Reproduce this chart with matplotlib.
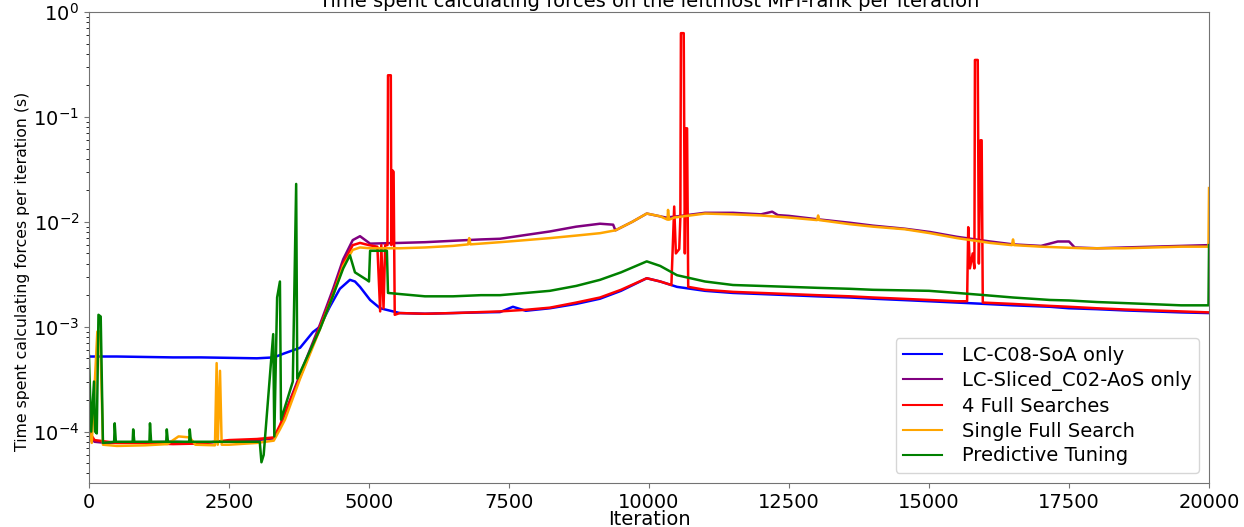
import numpy as np
import matplotlib
matplotlib.use("Agg")
import matplotlib.pyplot as plt

# values (iteration, seconds)
c08_it = [0, 500, 1000, 1500, 2000, 2500, 3000, 3300, 3500, 3770, 4000, 4125, 4300,
          4480, 4660, 4750, 4840, 5020, 5200, 5550, 6000, 6500, 7000, 7340, 7570, 7800,
          8230, 8700, 9125, 9500, 9960, 10200, 10500, 11000, 11500, 12000, 12500, 13000,
          13590, 14000, 14500, 15000, 15500, 16000, 16500, 17160, 17500, 18000, 18500,
          19000, 19500, 20000]
c08_t = [5.2e-4, 5.2e-4, 5.15e-4, 5.1e-4, 5.1e-4, 5.05e-4, 5.0e-4, 5.1e-4, 5.6e-4, 6.3e-4,
         8.9e-4, 1.0e-3, 1.55e-3, 2.3e-3, 2.8e-3, 2.7e-3, 2.4e-3, 1.8e-3, 1.5e-3, 1.35e-3,
         1.33e-3, 1.35e-3, 1.37e-3, 1.38e-3, 1.55e-3, 1.42e-3, 1.5e-3, 1.65e-3, 1.85e-3,
         2.2e-3, 2.9e-3, 2.7e-3, 2.4e-3, 2.2e-3, 2.1e-3, 2.05e-3, 2.0e-3, 1.95e-3, 1.9e-3,
         1.85e-3, 1.8e-3, 1.75e-3, 1.7e-3, 1.65e-3, 1.6e-3, 1.55e-3, 1.5e-3, 1.47e-3,
         1.43e-3, 1.4e-3, 1.37e-3, 1.35e-3]

sliced_it = [0, 100, 300, 1000, 1500, 2000, 2500, 3000, 3300, 3410, 3500, 3770, 4125,
             4360, 4540, 4710, 4840, 5020, 5550, 6000, 6500, 7000, 7340, 7800, 8230, 8700,
             9125, 9360, 9400, 9700, 9960, 10300, 10450, 11000, 11500, 12000, 12200, 12300,
             12500, 13000, 13590, 14000, 14570, 15020, 15500, 16090, 16500, 17000, 17300,
             17500, 17600, 18000, 18500, 19000, 19500, 20000]
sliced_t = [9e-5, 8e-5, 7.8e-5, 7.9e-5, 8e-5, 7.8e-5, 8.1e-5, 8.3e-5, 8.6e-5, 1.1e-4,
            1.5e-4, 3.5e-4, 1.05e-3, 2.3e-3, 4.4e-3, 6.7e-3, 7.3e-3, 6.2e-3, 6.3e-3, 6.4e-3,
            6.6e-3, 6.8e-3, 6.9e-3, 7.5e-3, 8.1e-3, 9.0e-3, 9.6e-3, 9.4e-3, 8.3e-3, 1.0e-2,
            1.2e-2, 1.1e-2, 1.12e-2, 1.22e-2, 1.22e-2, 1.18e-2, 1.25e-2, 1.16e-2, 1.14e-2,
            1.06e-2, 9.8e-3, 9.2e-3, 8.6e-3, 8.0e-3, 7.2e-3, 6.5e-3, 6.1e-3, 5.9e-3, 6.5e-3,
            6.5e-3, 5.7e-3, 5.6e-3, 5.7e-3, 5.8e-3, 5.9e-3, 6.0e-3]

full4_it = [0, 100, 500, 1000, 1500, 2000, 2500, 3000, 3300, 3410, 3500, 3770, 4125, 4360,
            4540, 4710, 4840, 5000, 5150, 5200, 5220, 5260, 5290, 5330, 5340, 5390, 5400,
            5420, 5440, 5460, 5550, 6000, 6500, 7000, 7340, 7800, 8230, 8700, 9125, 9500,
            9960, 10200, 10400, 10450, 10480, 10540, 10560, 10570, 10620, 10640, 10660,
            10680, 10700, 11000, 11500, 12000, 12500, 13000, 13590, 14000, 14500, 15000,
            15500, 15680, 15700, 15730, 15780, 15810, 15820, 15870, 15890, 15920, 15940,
            15960, 16500, 17160, 17500, 18000, 18500, 19000, 19500, 20000]
full4_t = [1.0e-4, 8.3e-5, 7.8e-5, 7.8e-5, 7.6e-5, 7.7e-5, 8.3e-5, 8.5e-5, 8.8e-5, 1.15e-4,
           1.5e-4, 3.3e-4, 1.0e-3, 2.1e-3, 4.0e-3, 6.0e-3, 6.3e-3, 6.0e-3, 5.8e-3, 1.4e-3,
           6e-3, 1.5e-3, 6e-3, 6e-3, 0.25, 0.25, 6e-3, 3.1e-2, 3.0e-2, 1.3e-3, 1.35e-3,
           1.33e-3, 1.35e-3, 1.38e-3, 1.4e-3, 1.45e-3, 1.52e-3, 1.7e-3, 1.9e-3, 2.25e-3,
           2.9e-3, 2.7e-3, 2.5e-3, 1.4e-2, 5e-3, 5.5e-3, 1.1e-2, 0.63, 0.63, 5e-3, 7.8e-2,
           7.8e-2, 2.4e-3, 2.25e-3, 2.15e-3, 2.1e-3, 2.05e-3, 2.0e-3, 1.95e-3, 1.9e-3,
           1.85e-3, 1.8e-3, 1.75e-3, 1.75e-3, 8.9e-3, 3.6e-3, 5e-3, 3.6e-3, 0.35, 0.35,
           4e-3, 6e-2, 6e-2, 1.7e-3, 1.65e-3, 1.58e-3, 1.55e-3, 1.5e-3, 1.46e-3, 1.43e-3,
           1.4e-3, 1.37e-3]

single_it = [0, 50, 150, 200, 250, 500, 1000, 1400, 1600, 1800, 1900, 2250, 2280, 2300,
             2340, 2370, 2500, 3000, 3300, 3410, 3500, 3770, 4125, 4360, 4540, 4710, 4840,
             5020, 5550, 6000, 6500, 6770, 6790, 6810, 7340, 7800, 8230, 8700, 9125, 9400,
             9700, 9960, 10200, 10330, 10340, 10360, 10450, 11000, 11500, 12000, 12500,
             13000, 13020, 13040, 13590, 14000, 14570, 15020, 15500, 16090, 16480, 16500,
             16520, 17000, 17750, 18500, 19000, 19500, 19990, 20000]
single_t = [1.0e-4, 7.8e-5, 9e-4, 9e-4, 7.5e-5, 7.3e-5, 7.4e-5, 7.6e-5, 9e-5, 8.8e-5,
            7.5e-5, 7.4e-5, 4.5e-4, 7.5e-5, 3.8e-4, 7.5e-5, 7.5e-5, 7.8e-5, 8.2e-5, 1.05e-4,
            1.3e-4, 3.2e-4, 9.5e-4, 2.0e-3, 3.8e-3, 5.4e-3, 5.7e-3, 5.6e-3, 5.6e-3, 5.7e-3,
            5.9e-3, 6.1e-3, 7e-3, 6.1e-3, 6.4e-3, 6.7e-3, 7.0e-3, 7.4e-3, 7.8e-3, 8.3e-3,
            1.0e-2, 1.2e-2, 1.13e-2, 1.05e-2, 1.3e-2, 1.05e-2, 1.1e-2, 1.2e-2, 1.18e-2,
            1.15e-2, 1.1e-2, 1.04e-2, 1.15e-2, 1.04e-2, 9.5e-3, 9e-3, 8.5e-3, 7.8e-3, 7.0e-3,
            6.3e-3, 6.0e-3, 6.8e-3, 6.0e-3, 5.8e-3, 5.6e-3, 5.6e-3, 5.7e-3, 5.8e-3, 5.8e-3,
            2.1e-2]

pred_it = [0, 40, 90, 110, 140, 170, 210, 250, 450, 460, 480, 780, 790, 810, 1080, 1090,
           1110, 1380, 1390, 1410, 1790, 1800, 1820, 2500, 3050, 3080, 3120, 3290, 3310,
           3360, 3410, 3430, 3640, 3700, 3720, 4125, 4360, 4540, 4660, 4750, 4960, 5000,
           5020, 5320, 5340, 5550, 6000, 6500, 7000, 7340, 7800, 8230, 8700, 9125, 9500,
           9960, 10200, 10500, 11000, 11500, 12000, 12500, 13000, 13590, 14000, 15000,
           15500, 16000, 16500, 17160, 17500, 18000, 18500, 19000, 19500, 19990, 20000]
pred_t = [5.3e-4, 1e-4, 3e-4, 1e-4, 9.6e-5, 1.3e-3, 1.25e-3, 7.8e-5, 8e-5, 1.2e-4, 8e-5,
          8e-5, 1.05e-4, 8e-5, 8e-5, 1.2e-4, 8e-5, 8e-5, 1.05e-4, 8e-5, 8e-5, 1.05e-4, 8e-5,
          8e-5, 8e-5, 5.1e-5, 6e-5, 8.5e-4, 9e-5, 1.9e-3, 2.7e-3, 1.3e-4, 3e-4, 2.3e-2,
          3.2e-4, 9.5e-4, 2e-3, 3.6e-3, 4.8e-3, 3.3e-3, 2.8e-3, 2.7e-3, 5.3e-3, 5.3e-3,
          2.1e-3, 2.05e-3, 1.95e-3, 1.95e-3, 2.0e-3, 2.0e-3, 2.1e-3, 2.2e-3, 2.45e-3, 2.8e-3,
          3.3e-3, 4.2e-3, 3.8e-3, 3.1e-3, 2.7e-3, 2.5e-3, 2.45e-3, 2.4e-3, 2.35e-3, 2.3e-3,
          2.25e-3, 2.2e-3, 2.1e-3, 2.0e-3, 1.9e-3, 1.8e-3, 1.78e-3, 1.72e-3, 1.68e-3,
          1.64e-3, 1.6e-3, 1.6e-3, 6e-3]

series = [
    (c08_it, c08_t, "blue", "LC-C08-SoA only"),
    (sliced_it, sliced_t, "purple", "LC-Sliced_C02-AoS only"),
    (full4_it, full4_t, "red", "4 Full Searches"),
    (single_it, single_t, "orange", "Single Full Search"),
    (pred_it, pred_t, "green", "Predictive Tuning"),
]

fig = plt.figure(figsize=(12.44, 5.27), dpi=100)
ax = fig.add_axes([0.0715, 0.0835, 0.9004, 0.8935])

for it, t, color, label in series:
    ax.plot(it, t, color=color, linewidth=1.8, label=label)

ax.set_yscale("log")
ax.set_xlim(0, 20000)
ax.set_ylim(10 ** -4.49, 1)
ax.tick_params(labelsize=14, color="0.45")
for spine in ax.spines.values():
    spine.set_color("0.45")
ax.set_xlabel("Iteration", fontsize=14, labelpad=-1)
ax.set_ylabel("Time spent calculating forces per iteration (s)", fontsize=11.3)
ax.yaxis.set_label_coords(-0.053, 0.45)
ax.set_title("Time spent calculating forces on the leftmost MPI-rank per iteration",
             fontsize=14, pad=3.5)
leg = ax.legend(loc="lower right", fontsize=14, labelspacing=0.3, handletextpad=1.0)
for line in leg.get_lines():
    line.set_linewidth(1.5)

fig.savefig("out.png", dpi=100)
